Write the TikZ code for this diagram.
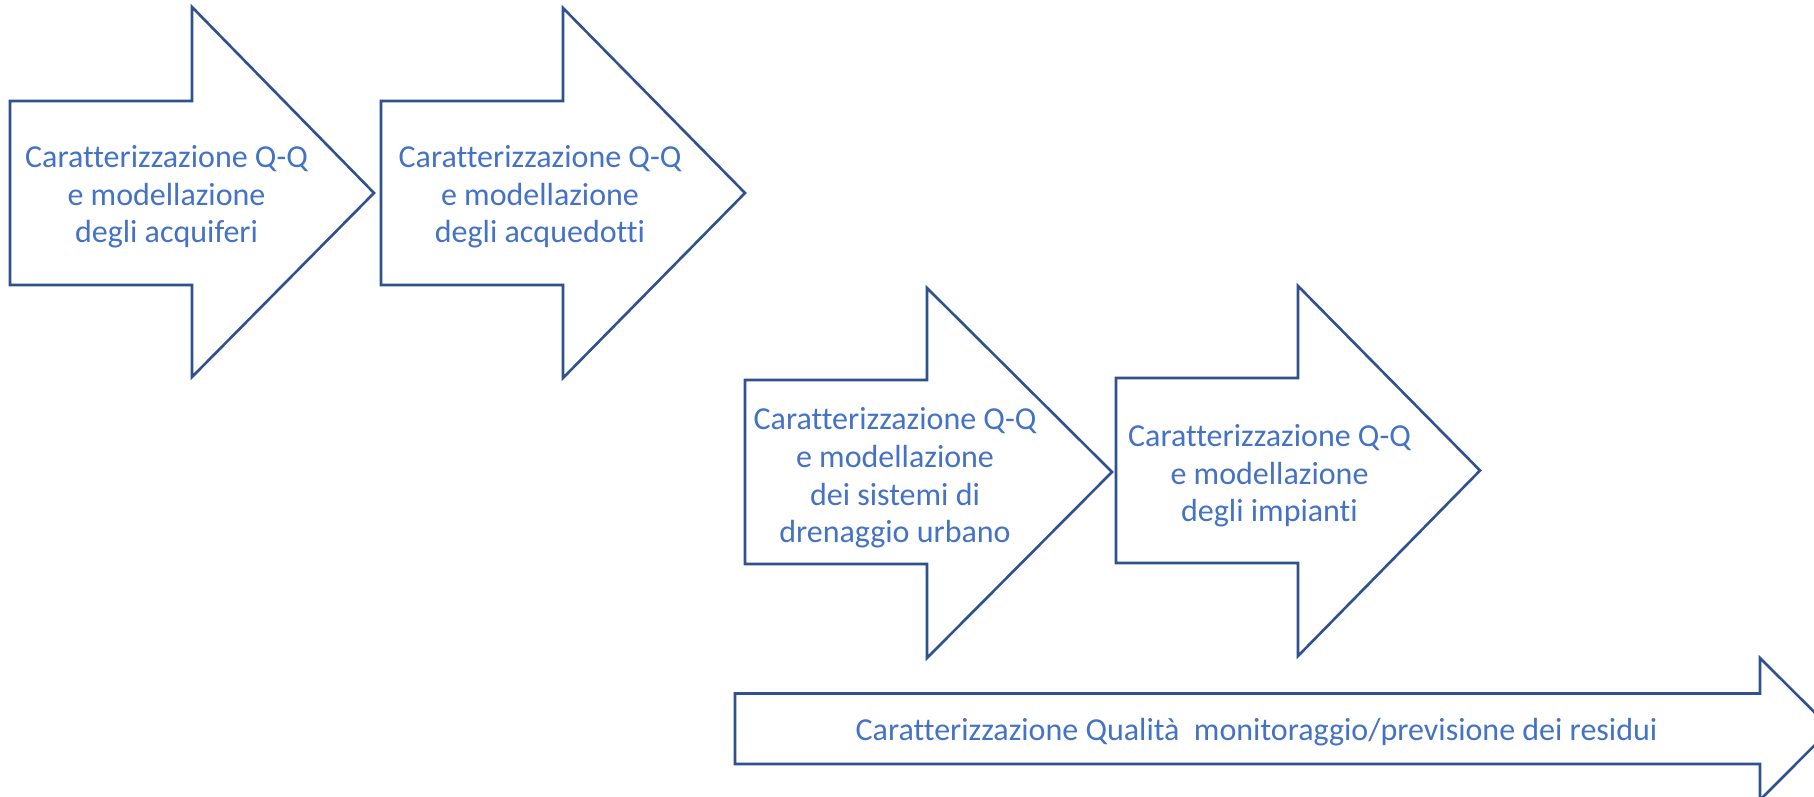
\documentclass[tikz,border=0pt]{standalone}
\usepackage{fontspec}
\setmainfont{Carlito}[Ligatures={NoCommon,NoContextual}]
\definecolor{edgeblue}{HTML}{2F528F}
\definecolor{textblue}{HTML}{4472C4}
\newcommand{\blockarrow}[8]{%
  % #1 name, #2 left, #3 body top, #4 body bottom, #5 head x, #6 head top, #7 head bottom, #8 tip x
  \draw[arrowshape] (#2,#3) -- (#5,#3) -- (#5,#6) -- (#8,{(#3+#4)/2}) -- (#5,#7) -- (#5,#4) -- (#2,#4) -- cycle;
  \coordinate (#1) at ({(#2+#8)/2},{(#3+#4)/2});
}
\begin{document}
\begin{tikzpicture}[x=1pt,y=-1pt,
  arrowshape/.style={draw=edgeblue,line width=2.6pt,fill=white,line join=miter},
  label/.style={text=textblue,align=center,font=\fontsize{32}{37.6}\selectfont,inner sep=0pt}]
\useasboundingbox (0,0) rectangle (1814,797);
\clip (0,0) rectangle (1814,797);
\fill[white] (0,0) rectangle (1814,797);
\blockarrow{a1}{10}{101}{285}{192}{7}{377}{374}
\blockarrow{a2}{381}{101}{285}{563}{8}{378}{745}
\blockarrow{a3}{745}{380}{564}{927}{288}{658}{1112}
\blockarrow{a4}{1116}{378}{563}{1298}{286}{656}{1480}
\blockarrow{a5}{735}{693.5}{764}{1760}{658}{800}{1831}
\node[label] (t1) at (166.5,197) {Caratterizzazione Q-Q\\e modellazione\\degli acquiferi};
\node[label] (t2) at (540,197) {Caratterizzazione Q-Q\\e modellazione\\degli acquedotti};
\node[label] (t3) at (895,478) {Caratterizzazione Q-Q\\e modellazione\\dei sistemi di\\drenaggio urbano};
\node[label] (t4) at (1269.5,476) {Caratterizzazione Q-Q\\e modellazione\\degli impianti};
\node[label,anchor=base] (t5) at (1256.5,740) {Caratterizzazione Qualità\ \ monitoraggio/previsione dei residui};
\end{tikzpicture}
\end{document}
